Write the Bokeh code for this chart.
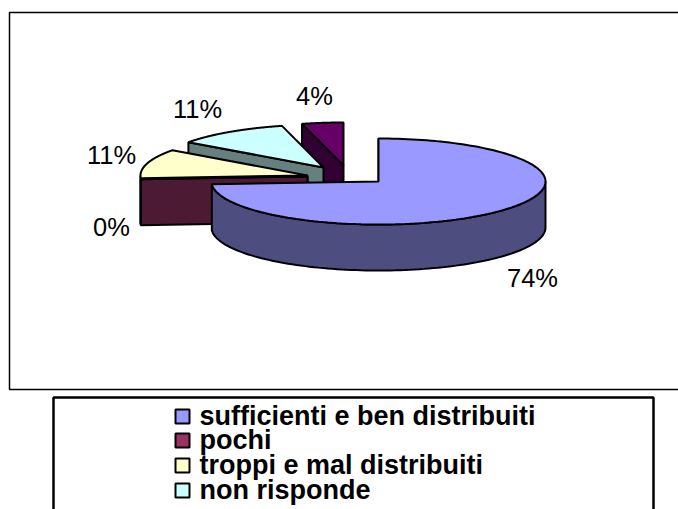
import numpy as np
from bokeh.plotting import figure
from bokeh.core.properties import value
from bokeh.embed import file_html
from bokeh.resources import INLINE

categories = ["sufficienti e ben distribuiti", "pochi", "troppi e mal distribuiti", "non risponde", ""]
values = [74.0, 0.0, 11.0, 11.0, 4.0]
labels = ["74%", "0%", "11%", "11%", "4%"]
top_colors = ["#9999FF", "#993366", "#FFFFCC", "#CCFFFF", "#660066"]
wall_colors = ["#4D4D80", "#4D1A33", "#808066", "#668080", "#330033"]
apex_x = [378, 307, 307, 323, 343]
apex_y = [181, 176, 175, 167, 165]
label_x = [532, 111, 111, 197, 314]
label_y = [277, 226, 154, 108, 95]

RX, RY, DEPTH = 167, 43, 46
W, H = 678, 509

p = figure(width=W, height=H, x_range=(0, W), y_range=(H, 0),
           output_backend="svg", toolbar_location=None, min_border=0,
           outline_line_color=None, background_fill_color="white")
p.axis.visible = False
p.grid.visible = False

# chart area frame
p.line([W, 9, 9, W], [12, 12, 389, 389], line_color="black", line_width=1.5)

total = sum(values)
starts = np.cumsum([0] + values[:-1]) / total * 2 * np.pi
ends = np.cumsum(values) / total * 2 * np.pi


def ex(a, t):
    return a + RX * np.sin(t)


def ey(a, t):
    return a - RY * np.cos(t)


for i in [4, 3, 2, 1, 0]:
    ax, ay = apex_x[i], apex_y[i]
    t = np.linspace(starts[i], ends[i], 160)
    # radial wall on the starting edge
    sx, sy = ex(ax, starts[i]), ey(ay, starts[i])
    p.patch([ax, sx, sx, ax], [ay, sy, sy + DEPTH, ay + DEPTH],
            fill_color=wall_colors[i], line_color="black", line_width=2)
    # outer rim, only where it faces the viewer
    tf = t[np.cos(t) < 0]
    if tf.size:
        xr = ex(ax, tf)
        yr = ey(ay, tf)
        p.patch(list(xr) + list(xr[::-1]), list(yr) + list(yr[::-1] + DEPTH),
                fill_color=wall_colors[i], line_color="black", line_width=2)
    # top face
    p.patch([ax] + list(ex(ax, t)), [ay] + list(ey(ay, t)),
            fill_color=top_colors[i], line_color="black", line_width=2)

p.text(label_x, label_y, text=labels, text_font=value("Liberation Sans"), text_font_size="25.5px",
       text_color="black", text_align="center", text_baseline="middle")

# legend
p.line([53, 53, 653, 653], [515, 397, 397, 515], line_color="black", line_width=2.5)
leg_y = [415, 439, 464, 489]
for yy, col, name in zip(leg_y, top_colors[:4], categories[:4]):
    p.rect([182], [yy + 1], width=14, height=14, fill_color=col, line_color="black", line_width=2)
    p.text([199], [yy], text=[name], text_font=value("Liberation Sans"), text_font_style="bold",
           text_font_size="27px", text_color="black", text_align="left", text_baseline="middle")

open("out.html", "w").write(file_html(p, INLINE))
